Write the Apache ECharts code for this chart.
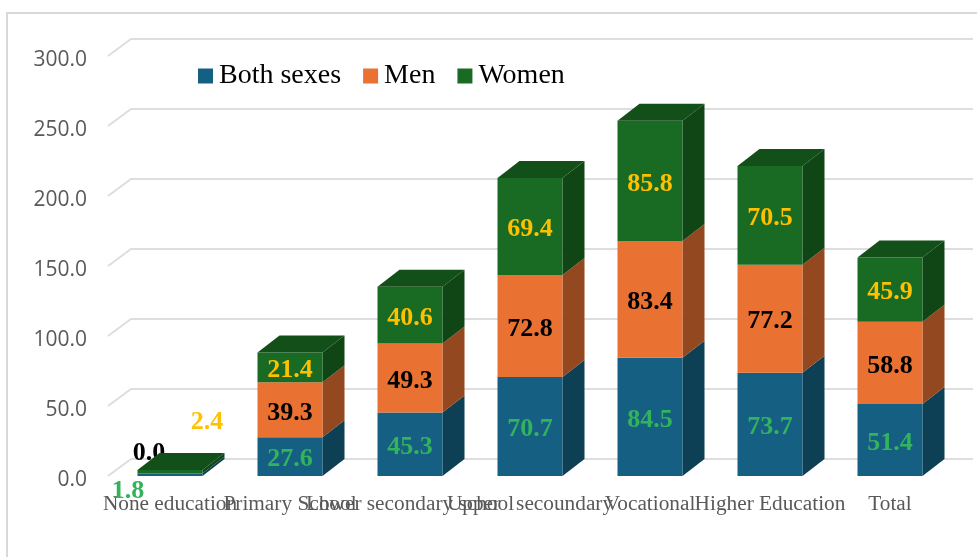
<!DOCTYPE html>
<html><head><meta charset="utf-8">
<style>html,body{margin:0;padding:0;background:#fff}#c{width:977px;height:557px}</style>
<script src="https://cdn.jsdelivr.net/npm/echarts@6/dist/echarts.min.js"></script>
</head><body><div id="c"></div>
<script>
const categories = ['None education','Primary School','Lower secondary school','Upper   secoundary','Vocational','Higher Education','Total'];
const bothSexes = [1.8,27.6,45.3,70.7,84.5,73.7,51.4];
const men = [0.0,39.3,49.3,72.8,83.4,77.2,58.8];
const women = [2.4,21.4,40.6,69.4,85.8,70.5,45.9];
const yTicks = [0,50,100,150,200,250,300];

const DX = 22, DY = -17, BAR_W = 65;
const SERIF = '"Liberation Serif","Times New Roman",serif';
const nudges = {
  'Both sexes': [-42, 17],
  'Men': [-21, -20],
  'Women': [37, -50]
};
function stackBase(k, i){
  const stacks=[bothSexes,men,women];
  let s=0; for(let j=0;j<k;j++) s+=stacks[j][i];
  return s;
}
function barSeries(name, values, k, front, side, topCol, labelCol){
  return {
    type:'custom', name, coordinateSystem:'cartesian2d', z:5+k, clip:false,
    itemStyle:{color:front},
    encode:{x:0,y:[1,2]},
    data: values.map((v,i)=>[i, stackBase(k,i), stackBase(k,i)+v, v]),
    renderItem(params, api){
      const i=api.value(0), b=api.coord([i,api.value(1)]), t=api.coord([i,api.value(2)]);
      const x0=b[0]-BAR_W/2, x1=b[0]+BAR_W/2, yb=b[1], yt=t[1];
      const children=[
        {type:'polygon',shape:{points:[[x1,yb],[x1+DX,yb+DY],[x1+DX,yt+DY],[x1,yt]]},style:{fill:side}},
        {type:'rect',shape:{x:x0,y:yt,width:BAR_W,height:yb-yt},style:{fill:front}}
      ];
      if(topCol) children.push({type:'polygon',shape:{points:[[x0,yt],[x0+DX,yt+DY],[x1+DX,yt+DY],[x1,yt]]},style:{fill:topCol}});
      const n = i===0 ? nudges[name] : [0,3];
      children.push({type:'text',z2:50,style:{text:api.value(3).toFixed(1),x:b[0]+n[0],y:(yb+yt)/2+n[1],
        align:'center',verticalAlign:'middle',fill:labelCol,font:'bold 26px '+SERIF}});
      return {type:'group',children};
    }
  };
}
const gridSeries = {
  type:'custom', silent:true, z:1, clip:false, coordinateSystem:'cartesian2d',
  encode:{y:1},
  data: yTicks.map(v=>[0,v]),
  renderItem(params, api){
    const y=api.coord([0,api.value(1)])[1], cs=params.coordSys;
    return {type:'polyline',shape:{points:[[cs.x-2,y],[cs.x+21,y-17],[cs.x+cs.width+23,y-17]]},
      style:{stroke:'#dedede',lineWidth:2,fill:null}};
  }
};
const chart = echarts.init(document.getElementById('c'),null,{renderer:'canvas'});
chart.setOption({
  animation:false,
  backgroundColor:'#fff',
  graphic:[{type:'rect',z:0,shape:{x:7,y:13,width:1100,height:700},style:{fill:null,stroke:'#d9d9d9',lineWidth:2}}],
  grid:{left:110,right:27,top:56,bottom:81},
  legend:{data:['Both sexes','Men','Women'],left:193,top:57,icon:'rect',itemWidth:15,itemHeight:15,itemGap:22,
    textStyle:{fontFamily:SERIF,fontSize:28,color:'#000',padding:[0,0,0,1]}},
  xAxis:{type:'category',data:categories,
    axisLine:{show:false},axisTick:{show:false},splitLine:{show:false},
    axisLabel:{interval:0,hideOverlap:false,margin:18,fontFamily:SERIF,fontSize:21.3,color:'#595959'}},
  yAxis:{type:'value',min:0,max:300,interval:50,
    axisLine:{show:false},axisTick:{show:false},splitLine:{show:false},
    axisLabel:{margin:23,verticalAlign:'top',lineHeight:8,formatter:v=>v.toFixed(1),fontFamily:'"Open Sans",sans-serif',fontSize:21,color:'#595959'}},
  series:[gridSeries,
    barSeries('Both sexes',bothSexes,0,'#156082','#0d3f55',null,'#33b35c'),
    barSeries('Men',men,1,'#E97132','#94481f',null,'#000'),
    barSeries('Women',women,2,'#196B24','#104516','#134f18','#FFC000')]
});
</script></body></html>
